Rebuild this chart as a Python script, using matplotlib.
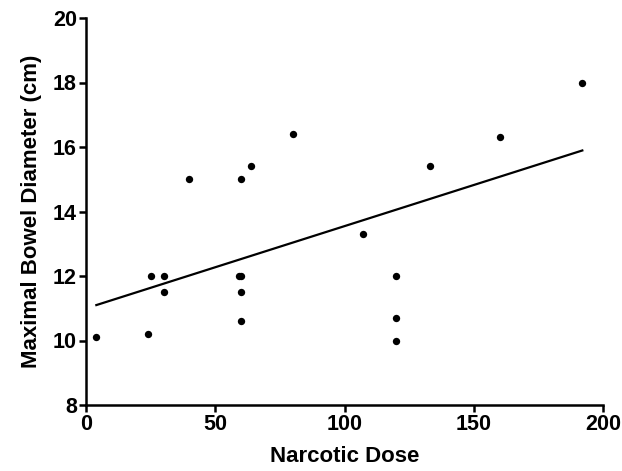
import numpy as np
import matplotlib
matplotlib.use("Agg")
import matplotlib.pyplot as plt

dose = [4, 24, 25, 30, 30, 40, 59, 60, 60, 60, 60, 64, 80, 107, 120, 120, 120, 133, 160, 192]
diameter = [10.1, 10.2, 12.0, 12.0, 11.5, 15.0, 12.0, 12.0, 15.0, 11.5, 10.6, 15.4, 16.4, 13.3, 12.0, 10.7, 10.0, 15.4, 16.3, 18.0]

x_ticks = [0, 50, 100, 150, 200]
y_ticks = [8, 10, 12, 14, 16, 18, 20]

plt.rcParams['font.family'] = ['Liberation Sans', 'DejaVu Sans']
plt.rcParams['font.weight'] = 'bold'

fig = plt.figure(figsize=(6.22, 4.71), dpi=100)
ax = fig.add_axes([86/622, 1-405/471, (603-86)/622, (405-18)/471])

ax.scatter(dose, diameter, s=28, color='black', zorder=3, linewidths=0)

x = np.array(dose, dtype=float)
y = np.array(diameter, dtype=float)
slope, intercept = np.polyfit(x, y, 1)
xl = np.array([x.min(), x.max()])
ax.plot(xl, slope * xl + intercept, color='black', lw=1.6)

ax.set_xlim(0, 200)
ax.set_ylim(8, 20)
ax.set_xticks(x_ticks)
ax.set_yticks(y_ticks)
for s in ['top', 'right']:
    ax.spines[s].set_visible(False)
for s in ['left', 'bottom']:
    ax.spines[s].set_linewidth(1.8)
ax.tick_params(width=1.8, length=5, labelsize=15.5, direction='out', pad=1.5)
for lab in ax.get_xticklabels() + ax.get_yticklabels():
    lab.set_fontweight('bold')

ax.set_xlabel('Narcotic Dose', fontsize=16, fontweight='bold', labelpad=8)
ax.set_ylabel('Maximal Bowel Diameter (cm)', fontsize=16, fontweight='bold', labelpad=8)

fig.savefig('out.png', dpi=100)
